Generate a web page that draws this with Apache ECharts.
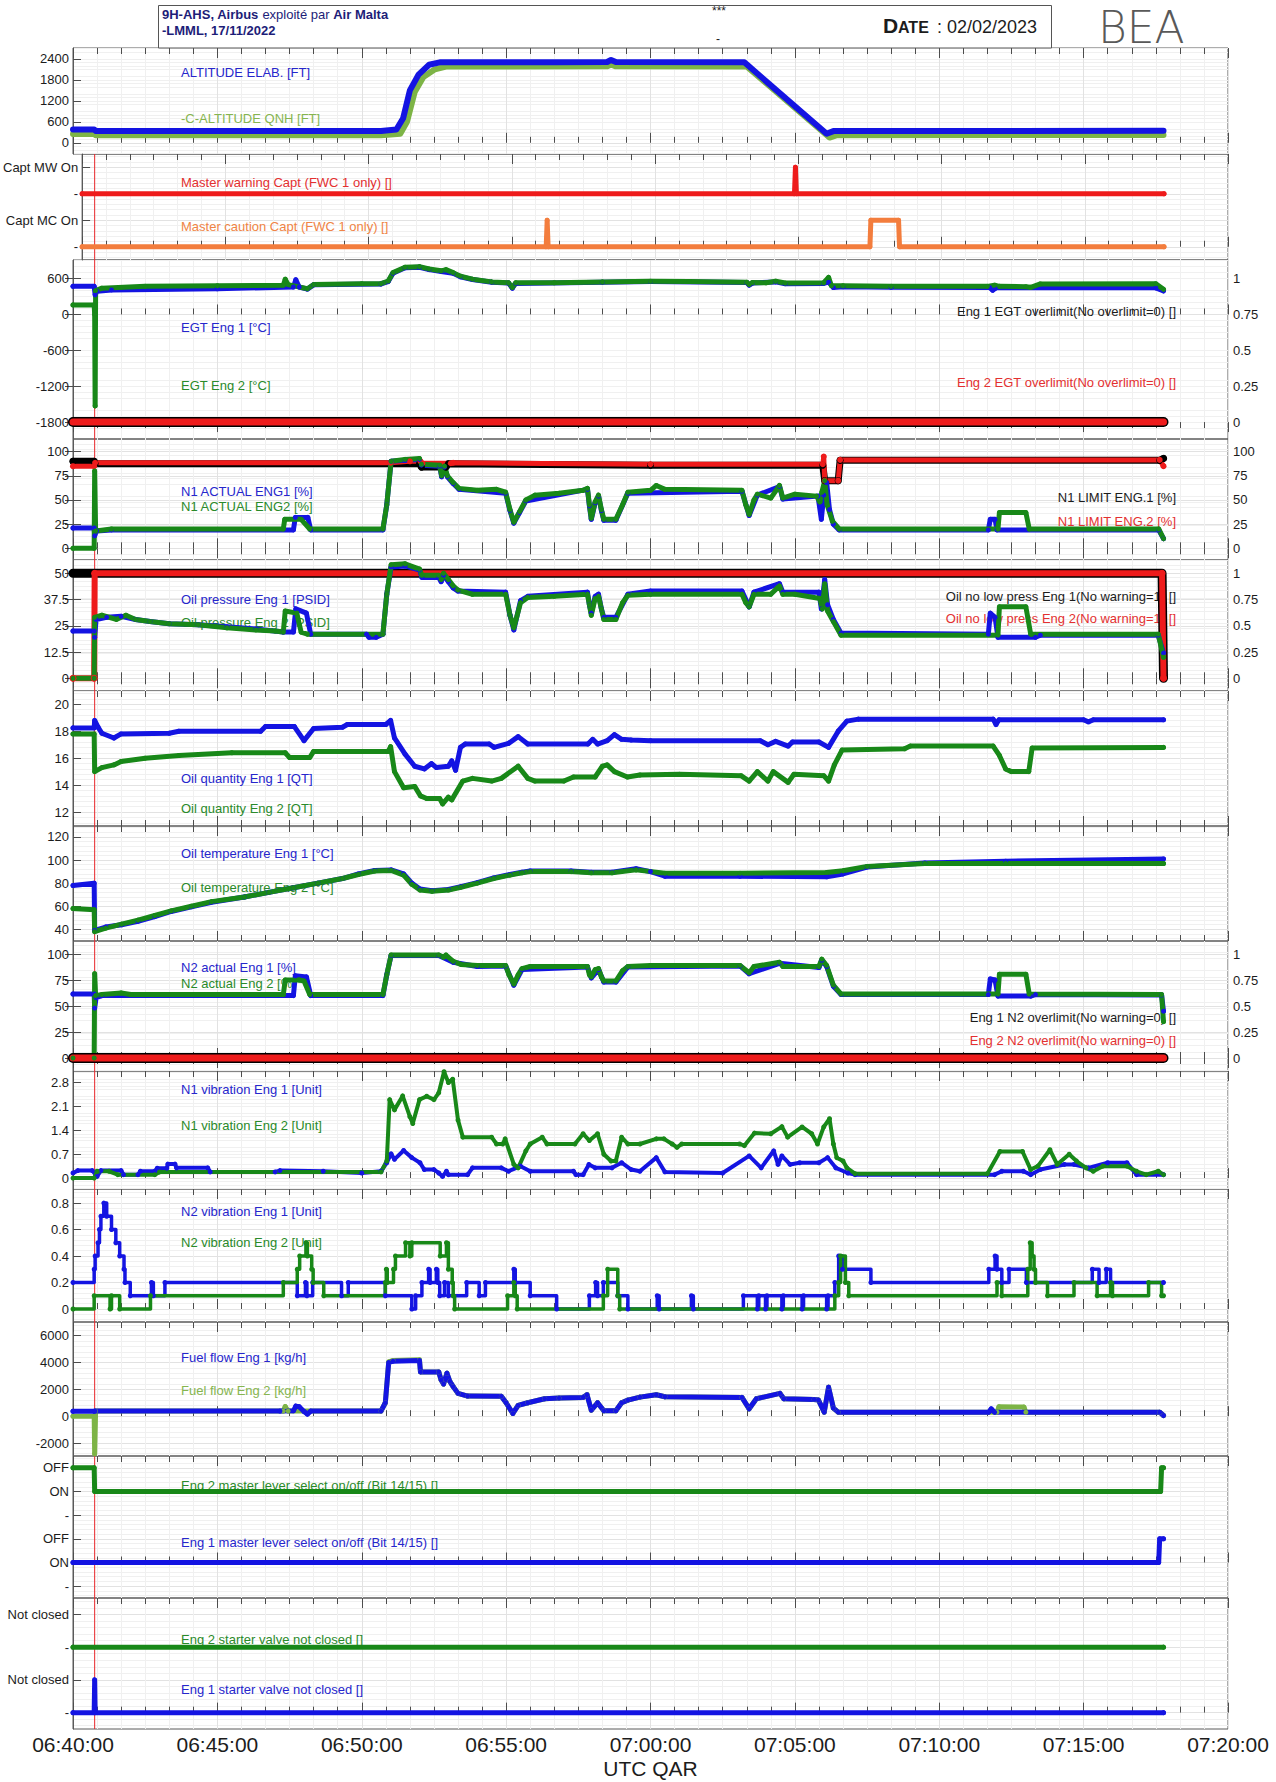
<!DOCTYPE html>
<html>
<head>
<meta charset="utf-8">
<script src="https://cdn.jsdelivr.net/npm/echarts@6/dist/echarts.min.js"></script>
<style>
  html, body { margin: 0; padding: 0; background: #ffffff; }
  #chart { width: 1276px; height: 1782px; }
</style>
</head>
<body>
<div id="chart"></div>
<script>
// All times are seconds after 06:40:00 UTC (QAR clock).
const clockStart = 6 * 3600 + 40 * 60;
const cursorSec = 45;
const lastSample = 2266;

// ---- tick values / tick names ----
const altTicks = [0, 600, 1200, 1800, 2400];
const warnTicks = [0, 1, 2, 3];
const warnTickNames = ['-', 'Capt MC On', '-', 'Capt MW On'];
const egtTicks = [-1800, -1200, -600, 0, 600];
const flagTicks = [0, 0.25, 0.5, 0.75, 1];
const pctTicks = [0, 25, 50, 75, 100];
const oilPTicks = [0, 12.5, 25, 37.5, 50];
const oilQTicks = [12, 14, 16, 18, 20];
const oilTTicks = [40, 60, 80, 100, 120];
const n1VibTicks = [0, 0.7, 1.4, 2.1, 2.8];
const n2VibTicks = [0, 0.2, 0.4, 0.6, 0.8];
const ffTicks = [-2000, 0, 2000, 4000, 6000];
const leverTicks = [-1, 0, 1, 2, 3, 4];
const leverTickNames = ['-', 'ON', 'OFF', '-', 'ON', 'OFF'];
const valveTicks = [0, 1, 2, 3];
const valveTickNames = ['-', 'Not closed', '-', 'Not closed'];

// ---- altitude [ft] ----
const altElab = [[0,380],[44,380],[47,340],[640,340],[672,380],[686,700],[700,1500],[718,1950],[740,2230],[762,2300],[1000,2300],[1110,2310],[1118,2370],[1128,2310],[1395,2300],[1566,260],[1580,335],[lastSample,345]];
const altQnh = [[0,250],[44,250],[47,215],[640,215],[680,260],[694,600],[710,1450],[728,1880],[752,2100],[775,2180],[1110,2185],[1118,2240],[1128,2185],[1400,2180],[1572,150],[1586,215],[lastSample,225]];

// ---- master warning / caution (0 = MC off, 1 = MC on, 2 = MW off, 3 = MW on) ----
const mwCapt = [[0,2],[1492,2],[1494,3],[1496,2],[lastSample,2]];
const mcCapt = [[0,0],[972,0],[974,1],[976,0],[1650,0],[1652,1],[1710,1],[1712,0],[lastSample,0]];

// ---- EGT [°C] and overlimit flags ----
const egtEng1 = [[0,470],[44,470],[46,330],[50,390],[80,410],[300,430],[458,460],[463,580],[470,460],[487,425],[500,495],[640,510],[655,550],[665,690],[690,780],[720,790],[740,750],[765,720],[790,690],[805,630],[830,585],[870,540],[905,525],[913,440],[920,520],[1100,540],[1200,550],[1400,535],[1405,490],[1412,525],[1460,545],[1480,515],[1560,520],[1570,540],[1580,450],[1600,465],[1700,455],[1905,450],[1911,405],[1918,445],[2250,445],[lastSample,395]];
const egtEng2 = [[0,160],[44,160],[45,0],[46,-1530],[47,400],[60,440],[150,470],[300,480],[437,490],[441,590],[447,500],[487,430],[500,500],[600,515],[640,515],[655,560],[665,700],[690,790],[720,800],[740,760],[765,730],[775,750],[790,700],[805,640],[830,590],[870,545],[905,530],[913,450],[920,530],[1000,530],[1100,545],[1200,555],[1280,550],[1400,540],[1405,500],[1412,535],[1440,530],[1460,555],[1480,525],[1560,530],[1570,620],[1576,480],[1600,480],[1700,470],[1900,470],[1915,490],[1925,470],[1980,465],[1990,455],[2010,510],[2250,515],[lastSample,420]];
const egtOverEng1 = [[0,0],[lastSample,0]];
const egtOverEng2 = [[0,0],[lastSample,0]];

// ---- N1 [%] ----
const n1Eng1 = [[0,21],[44,21],[45,13],[49,18],[80,19],[458,19],[462,32],[488,32],[494,19],[644,19],[652,45],[661,90],[690,91],[720,92],[724,86],[762,85],[766,74],[772,84],[778,74],[790,67],[802,61],[899,57],[908,39],[916,26],[928,37],[941,49],[1069,61],[1073,44],[1077,30],[1085,47],[1092,54],[1098,39],[1103,29],[1128,29],[1153,57],[1390,59],[1405,34],[1422,55],[1468,64],[1475,51],[1548,54],[1555,30],[1560,55],[1566,68],[1572,40],[1580,25],[1592,19],[1902,19],[1906,30],[1916,30],[1920,19],[2256,19],[lastSample,10]];
const n1Eng2 = [[0,0],[44,0],[45,80],[47,18],[80,20],[437,20],[440,30],[474,30],[492,20],[644,20],[652,45],[661,90],[690,92],[720,93],[724,87],[762,86],[766,75],[772,85],[778,75],[790,68],[802,62],[840,60],[880,61],[899,58],[908,40],[916,27],[928,38],[941,50],[960,55],[1010,57],[1060,60],[1069,62],[1073,45],[1077,31],[1085,48],[1092,55],[1098,40],[1103,30],[1128,30],[1142,45],[1153,58],[1200,60],[1212,65],[1230,61],[1390,60],[1398,45],[1405,35],[1415,50],[1422,56],[1450,52],[1468,65],[1475,52],[1500,56],[1545,54],[1552,48],[1556,58],[1562,70],[1567,45],[1578,28],[1592,20],[1922,20],[1925,37],[1980,37],[1987,20],[2256,20],[lastSample,10]];
const n1LimEng1 = [[0,90],[44,90],[46,87.5],[720,87.5],[724,84],[775,84],[780,87.5],[1200,86],[1558,86],[1562,70],[1590,70],[1594,91],[2258,91],[lastSample,93]];
const n1LimEng2 = [[0,85],[44,85],[46,88.5],[660,88.5],[700,90],[722,90],[726,88],[785,88],[790,88.5],[1200,87],[1558,87],[1560,95],[1562,70],[1590,70],[1594,91.5],[2258,91.5],[lastSample,85]];

// ---- oil pressure [PSID] and no-low-press flags ----
const oilPEng1 = [[0,22.5],[44,22.5],[45,19.5],[48,28],[70,29],[100,29.5],[130,28],[160,27],[200,26],[260,25.5],[320,24.5],[380,23.5],[437,22],[458,22],[463,33],[485,31],[494,21],[610,21],[615,19.5],[630,19.5],[644,21],[652,40],[661,53],[690,53.5],[720,51.5],[725,48],[760,48],[765,46],[770,49],[780,46],[790,43],[800,41.5],[899,41],[908,30],[916,23],[930,37],[945,39],[1069,41],[1073,35],[1077,31],[1085,39],[1092,40],[1098,33],[1103,29],[1128,29],[1153,40],[1200,41.5],[1390,41.5],[1405,34],[1415,41],[1468,45],[1475,41],[1550,41],[1555,33],[1562,47],[1568,35],[1580,28],[1596,21.5],[1902,21],[1906,31],[1916,29],[1922,19.5],[2000,19.5],[2010,20.5],[2255,20.5],[lastSample,12]];
const oilPEng2 = [[0,0],[44,0],[45,29],[60,30],[90,28],[110,30],[130,28],[160,27],[200,26],[260,25.5],[320,24],[380,23],[420,22.5],[437,22],[441,32],[465,31],[474,22],[487,21],[644,21],[652,40],[661,54],[690,54.5],[720,52],[725,49],[760,49],[765,47],[770,50],[780,47],[790,44],[800,42],[830,40],[899,40],[908,30],[916,24],[930,36],[945,38.5],[1000,39],[1069,40],[1073,35],[1077,30],[1085,38],[1092,39],[1098,33],[1103,28],[1128,28],[1142,36],[1153,39.5],[1200,40],[1390,40],[1398,36],[1405,34],[1415,40],[1450,40],[1468,44],[1475,40],[1500,40],[1552,38],[1557,33],[1562,45],[1568,32],[1580,27],[1596,20.5],[1922,20.5],[1925,34],[1980,34],[1990,21],[2255,21],[lastSample,10]];
const oilLowEng1 = [[0,1],[2263,1],[lastSample,0]];
const oilLowEng2 = [[0,0],[44,0],[45,1],[2263,1],[lastSample,0]];

// ---- oil quantity [QT] ----
const oilQEng1 = [[0,18.25],[44,18.25],[45,18.8],[52,18.3],[60,17.85],[85,17.5],[100,17.8],[200,17.85],[220,18.0],[390,18.0],[400,18.35],[460,18.35],[480,17.3],[500,18.2],[560,18.3],[570,18.5],[650,18.5],[660,18.8],[668,17.5],[690,16.3],[710,15.4],[730,15.2],[745,15.6],[755,15.3],[780,15.4],[787,15.8],[795,15.1],[805,16.8],[815,17.05],[865,17.05],[875,16.8],[905,17.1],[925,17.6],[945,17.05],[1070,17.05],[1080,17.4],[1090,17.05],[1110,17.3],[1125,17.75],[1140,17.4],[1160,17.35],[1200,17.3],[1428,17.3],[1444,17.0],[1460,17.25],[1486,16.9],[1495,17.2],[1550,17.2],[1570,16.8],[1590,18.0],[1608,18.75],[1632,18.9],[1912,18.9],[1918,18.5],[1924,18.85],[2100,18.85],[2110,18.7],[2120,18.85],[lastSample,18.85]];
const oilQEng2 = [[0,17.8],[44,17.8],[45,15.0],[60,15.3],[85,15.5],[100,15.75],[150,16.0],[220,16.2],[330,16.4],[441,16.4],[450,16.05],[492,16.05],[500,16.5],[655,16.5],[660,16.85],[668,15.0],[687,13.8],[710,13.9],[722,13.2],[735,13.0],[762,13.0],[768,12.6],[780,13.1],[787,12.9],[810,14.3],[830,14.5],[870,14.3],[890,14.5],[925,15.4],[945,14.5],[960,14.3],[1020,14.3],[1040,14.6],[1085,14.6],[1100,15.4],[1110,15.5],[1125,15.0],[1152,14.6],[1178,14.75],[1260,14.8],[1388,14.7],[1405,14.3],[1422,15.0],[1444,14.3],[1455,15.0],[1486,14.2],[1498,14.8],[1560,14.7],[1570,14.3],[1582,15.5],[1598,16.6],[1728,16.7],[1740,16.9],[1912,16.9],[1925,16.2],[1938,15.2],[1950,15.0],[1986,15.0],[1993,16.75],[lastSample,16.8]];

// ---- oil temperature [°C] ----
const oilTEng1 = [[0,78],[44,80],[45,39],[68,42],[101,44],[135,47],[170,51],[204,55.5],[246,59.5],[288,63.5],[356,68],[407,72],[458,76],[509,80],[560,84],[593,88],[627,91],[661,91.5],[687,88],[704,80],[721,75],[746,73.5],[780,74.5],[806,77],[840,80.5],[874,84.5],[908,87.5],[933,89.5],[950,90.5],[1035,90.5],[1077,89.5],[1120,89.5],[1170,92.5],[1200,90],[1230,86],[1386,86],[1566,85.5],[1600,88],[1650,94],[1770,97.5],[1938,99],[lastSample,101]];
const oilTEng2 = [[0,58],[44,57],[45,38],[68,41],[101,44.5],[135,48],[170,52],[204,56],[246,60],[288,64],[356,68],[407,72],[458,76],[509,80],[560,84],[593,87.5],[627,90.5],[661,91],[687,87],[704,79],[721,74],[746,73],[780,74],[806,76.5],[840,80],[874,84],[908,87],[933,89],[950,90],[1035,90],[1077,89],[1120,89],[1170,91.5],[1230,88.5],[1386,88.5],[1566,89.3],[1600,90.7],[1650,94.5],[1770,97],[1938,97],[lastSample,97]];

// ---- N2 [%] and overlimit flags ----
const n2Eng1 = [[0,61.5],[44,61.5],[45,48],[48,58],[60,60],[458,60],[462,79],[485,78],[494,60],[644,60],[652,80],[661,98.5],[760,98.5],[790,92],[840,88],[899,88.5],[916,70],[933,85],[1069,87.5],[1077,77],[1092,85],[1103,73],[1128,73],[1153,87.5],[1386,88.5],[1405,81],[1468,91],[1550,87],[1556,94],[1566,88],[1580,69],[1596,61],[1902,61],[1906,76],[1916,75],[1922,59.5],[1990,59.5],[2000,61],[2262,60.5],[lastSample,45]];
const n2Eng2 = [[0,0],[44,0],[45,81],[47,60],[60,61],[100,62.5],[120,61],[437,61],[441,75],[470,75],[480,74],[492,61],[644,61],[652,80],[661,99],[760,99],[770,97],[775,99],[790,93],[806,90],[840,89],[899,89],[906,80],[916,71],[925,80],[933,86],[950,88],[1069,88],[1073,80],[1077,78],[1085,85],[1092,86],[1098,78],[1103,74],[1128,74],[1142,84],[1153,88],[1200,89],[1386,89],[1405,82],[1415,88],[1468,92],[1475,88],[1550,88],[1556,95],[1566,89],[1580,70],[1596,61.5],[1922,61.5],[1925,80.5],[1980,80.5],[1987,61.5],[2262,61],[lastSample,35]];
const n2OverEng1 = [[0,0],[lastSample,0]];
const n2OverEng2 = [[0,0],[lastSample,0]];

// ---- N1 vibration [unit] ----
const n1VibEng1 = [[0,0.15],[10,0.22],[40,0.22],[50,0.05],[58,0.22],[100,0.22],[105,0.1],[135,0.1],[140,0.2],[170,0.2],[175,0.29],[195,0.29],[197,0.41],[212,0.41],[215,0.3],[280,0.3],[285,0.18],[420,0.18],[430,0.22],[520,0.2],[600,0.15],[640,0.2],[652,0.45],[661,0.71],[668,0.55],[687,0.81],[704,0.6],[721,0.45],[730,0.25],[750,0.25],[760,0.15],[768,0.05],[776,0.2],[780,0.1],[820,0.1],[830,0.3],[890,0.3],[905,0.2],[930,0.35],[950,0.2],[1040,0.2],[1045,0.1],[1060,0.1],[1072,0.4],[1085,0.3],[1120,0.3],[1140,0.45],[1160,0.25],[1178,0.2],[1212,0.6],[1230,0.18],[1350,0.15],[1405,0.65],[1430,0.3],[1456,0.8],[1465,0.4],[1473,0.65],[1490,0.4],[1510,0.45],[1550,0.45],[1568,0.6],[1585,0.3],[1610,0.15],[1625,0.1],[1915,0.1],[1930,0.2],[1975,0.2],[1990,0.1],[2010,0.25],[2060,0.4],[2080,0.4],[2110,0.3],[2150,0.45],[2190,0.45],[2210,0.1],[lastSample,0.1]];
const n1VibEng2 = [[0,0],[44,0],[50,0.2],[75,0.2],[93,0.1],[170,0.1],[180,0.18],[640,0.18],[652,0.5],[658,2.3],[668,2.0],[685,2.41],[700,1.8],[706,1.6],[720,2.3],[735,2.4],[750,2.3],[760,2.5],[771,3.12],[780,2.8],[789,2.9],[800,1.7],[810,1.2],[870,1.2],[880,1.0],[893,1.0],[898,1.15],[916,0.4],[925,0.3],[941,0.8],[950,1.0],[975,1.2],[985,1.0],[1043,1.0],[1060,1.3],[1073,1.1],[1090,1.3],[1103,0.7],[1118,0.5],[1128,0.5],[1140,1.2],[1153,1.0],[1178,1.0],[1212,1.15],[1228,1.15],[1245,1.0],[1255,0.9],[1265,1.0],[1385,1.0],[1395,0.95],[1416,1.32],[1450,1.3],[1473,1.51],[1485,1.2],[1515,1.5],[1535,1.3],[1547,1.0],[1560,1.5],[1572,1.74],[1580,1.0],[1587,0.6],[1600,0.5],[1608,0.3],[1625,0.13],[1900,0.13],[1926,0.78],[1973,0.78],[1990,0.25],[2005,0.35],[2030,0.83],[2045,0.4],[2070,0.7],[2085,0.5],[2105,0.3],[2120,0.2],[2140,0.35],[2190,0.35],[2210,0.2],[2230,0.1],[2255,0.2],[lastSample,0.1]];

// ---- N2 vibration [unit]: each value holds until the next sample ----
const n2VibEng1 = [[0,0.2],[44,0.3],[46,0.4],[52,0.5],[55,0.6],[58,0.7],[64,0.8],[70,0.7],[80,0.6],[89,0.5],[97,0.4],[106,0.3],[108,0.2],[119,0.1],[163,0.2],[167,0.1],[191,0.2],[466,0.1],[483,0.2],[486,0.1],[498,0.2],[558,0.1],[572,0.2],[649,0.1],[704,0],[712,0.1],[725,0.2],[739,0.3],[742,0.2],[755,0.3],[758,0.2],[762,0.1],[772,0.2],[780,0.1],[818,0.2],[844,0.1],[857,0.2],[916,0.3],[919,0.2],[950,0.1],[1005,0],[1073,0.1],[1086,0.2],[1090,0.1],[1102,0.2],[1132,0.1],[1153,0],[1214,0.1],[1218,0],[1285,0.1],[1289,0],[1393,0.1],[1422,0],[1425,0.1],[1439,0],[1442,0.1],[1473,0],[1476,0.1],[1515,0],[1518,0.1],[1566,0],[1569,0.1],[1583,0.2],[1591,0.4],[1599,0.3],[1658,0.2],[1903,0.3],[1916,0.4],[1920,0.3],[1930,0.2],[1945,0.3],[1981,0.2],[2118,0.3],[2132,0.2],[2147,0.3],[2156,0.2],[lastSample,0.2]];
const n2VibEng2 = [[0,0],[44,0.1],[77,0],[80,0.1],[97,0],[161,0.1],[437,0.2],[466,0.3],[471,0.4],[484,0.5],[487,0.4],[496,0.3],[499,0.2],[521,0.1],[649,0.2],[651,0.3],[653,0.2],[666,0.3],[670,0.4],[691,0.5],[700,0.4],[704,0.5],[763,0.4],[776,0.5],[780,0.3],[788,0.2],[790,0.1],[793,0],[903,0.1],[916,0.2],[919,0.1],[923,0],[1102,0.1],[1111,0.3],[1132,0.1],[1136,0],[1583,0.1],[1591,0.2],[1595,0.4],[1605,0.2],[1612,0.1],[1920,0.2],[1930,0.1],[1984,0.3],[1989,0.5],[1993,0.4],[1997,0.3],[2000,0.2],[2025,0.1],[2080,0.2],[2128,0.1],[2156,0.2],[2160,0.1],[2235,0.2],[2262,0.1],[lastSample,0.1]];

// ---- fuel flow [kg/h] ----
const ffEng1 = [[0,370],[44,370],[46,380],[430,380],[458,400],[463,750],[470,700],[480,350],[487,150],[494,380],[640,380],[649,1000],[656,4000],[665,4100],[720,4150],[722,3300],[760,3300],[765,2700],[770,2400],[777,3200],[783,2600],[790,2200],[800,1700],[820,1500],[890,1480],[900,1000],[914,200],[925,800],[945,1000],[980,1300],[1010,1350],[1060,1400],[1068,1600],[1077,450],[1090,1000],[1103,400],[1128,400],[1140,1000],[1153,1200],[1178,1420],[1212,1600],[1230,1450],[1390,1400],[1405,550],[1420,1300],[1469,1700],[1477,1300],[1540,1250],[1549,1200],[1561,300],[1570,2160],[1580,600],[1590,300],[1903,300],[1908,550],[1915,300],[2258,300],[lastSample,50]];
const ffEng2 = [[0,0],[44,0],[45,-2800],[47,380],[437,380],[441,720],[447,380],[640,380],[649,1000],[656,4050],[665,4150],[720,4200],[722,3300],[760,3300],[765,2700],[770,2400],[777,3200],[783,2600],[790,2200],[800,1700],[820,1500],[890,1480],[900,1000],[914,200],[925,800],[945,1000],[980,1300],[1010,1350],[1060,1400],[1068,1600],[1077,450],[1090,1000],[1103,400],[1128,400],[1140,1000],[1153,1200],[1178,1420],[1212,1600],[1230,1450],[1390,1400],[1405,550],[1420,1300],[1469,1700],[1477,1300],[1540,1250],[1549,1200],[1561,300],[1570,2160],[1580,600],[1590,300],[1920,300],[1924,700],[1976,680],[1980,300],[2258,300],[lastSample,50]];

// ---- master lever (eng 2: ON=3, OFF=4; eng 1: ON=0, OFF=1) ----
const mlEng2 = [[0,4],[44,4],[45,3],[2260,3],[2262,4],[lastSample,4]];
const mlEng1 = [[0,0],[2256,0],[2258,1],[lastSample,1]];

// ---- starter valve (eng 2: '-'=2, not closed=3; eng 1: '-'=0, not closed=1) ----
const svEng2 = [[0,2],[lastSample,2]];
const svEng1 = [[0,0],[44,0],[45,1],[46,0],[lastSample,0]];

// ---------------------------------------------------------------------------
const FONT = "'Liberation Sans', Arial, Helvetica, sans-serif";
const COL = {
  blue: '#1414e2', green: '#188818', olive: '#7db446', red: '#ee1b1b',
  orange: '#f37d3d', black: '#000000'
};
const TXT = {
  blue: '#2626cc', green: '#2a8a2a', olive: '#86b54f', red: '#e33030',
  orange: '#f08445', black: '#1c1c1c'
};

// stacked strips: pixel top / bottom of each plot frame
const strips = [
  {top: 48, bottom: 154}, {top: 154, bottom: 260}, {top: 260, bottom: 439},
  {top: 439, bottom: 560}, {top: 560, bottom: 691}, {top: 691, bottom: 826},
  {top: 826, bottom: 941}, {top: 941, bottom: 1071}, {top: 1071, bottom: 1189},
  {top: 1189, bottom: 1322}, {top: 1322, bottom: 1456}, {top: 1456, bottom: 1598},
  {top: 1598, bottom: 1729}
];
const plotLeft = 73, plotRight = 48;

// value ranges of each strip's scales
const scales = [
  {min: -320, max: 2710, ticks: altTicks},
  {min: -0.5, max: 3.5, ticks: warnTicks, names: warnTickNames},
  {min: -2083, max: 911, ticks: egtTicks, right: {min: -0.118, max: 1.1296, ticks: flagTicks}},
  {min: -12.1, max: 113.1, ticks: pctTicks, right: {min: -12.1, max: 113.1, ticks: pctTicks}},
  {min: -6.06, max: 56.3, ticks: oilPTicks, right: {min: -0.1212, max: 1.126, ticks: flagTicks}},
  {min: 10.96, max: 20.99, ticks: oilQTicks},
  {min: 29.9, max: 129.5, ticks: oilTTicks},
  {min: -12.5, max: 112.5, ticks: pctTicks, right: {min: -0.125, max: 1.125, ticks: flagTicks}},
  {min: -0.32, max: 3.14, ticks: n1VibTicks},
  {min: -0.098, max: 0.906, ticks: n2VibTicks},
  {min: -2969, max: 7021, ticks: ffTicks},
  {min: -1.5, max: 4.5, ticks: leverTicks, names: leverTickNames},
  {min: -0.5, max: 3.5, ticks: valveTicks, names: valveTickNames}
];

function pad2(n) { return (n < 10 ? '0' : '') + n; }
function clockLabel(sec) {
  const t = clockStart + Math.round(sec);
  return pad2(Math.floor(t / 3600)) + ':' + pad2(Math.floor((t % 3600) / 60)) + ':' + pad2(t % 60);
}

const grid = [], xAxis = [], yAxis = [];
const xIdx = [], yLeft = [], yRight = [];
const tickLine = {color: '#4d4d4d', width: 1};
const last = strips.length - 1;

strips.forEach((s, i) => {
  grid.push({left: plotLeft, right: plotRight, top: s.top, height: s.bottom - s.top,
    show: true, borderColor: '#5a5a5a', borderWidth: 1, backgroundColor: 'transparent'});

  xIdx[i] = xAxis.length;
  xAxis.push({
    gridIndex: i, type: 'value', min: 0, max: 2400, interval: 300, position: 'bottom',
    axisLine: {show: false},
    axisTick: {show: true, inside: true, length: 10, lineStyle: tickLine},
    minorTick: {show: true, splitNumber: 6, length: 6, lineStyle: tickLine},
    splitLine: {show: true, lineStyle: {color: '#e2e2e2', width: 1}},
    minorSplitLine: {show: true, lineStyle: {color: '#f0f0f0', width: 1}},
    axisLabel: i === last ? {
      show: true, formatter: clockLabel, fontSize: 21, color: '#1c1c1c',
      fontFamily: FONT, margin: 5, showMinLabel: true, showMaxLabel: true
    } : {show: false},
    name: i === last ? 'UTC QAR' : '',
    nameLocation: 'middle', nameGap: 29,
    nameTextStyle: {fontSize: 21, color: '#1c1c1c', fontFamily: FONT}
  });
  xAxis.push({
    gridIndex: i, type: 'value', min: 0, max: 2400, interval: 300, position: 'top',
    axisLine: {show: false},
    axisTick: {show: true, inside: true, length: 10, lineStyle: tickLine},
    minorTick: {show: true, splitNumber: 6, length: 6, lineStyle: tickLine},
    splitLine: {show: false}, axisLabel: {show: false}
  });

  const sc = scales[i];
  const fmt = sc.names ? (v => sc.names[sc.ticks.indexOf(v)]) : (v => String(v));
  yLeft[i] = yAxis.length;
  yAxis.push({
    gridIndex: i, type: 'value', min: sc.min, max: sc.max, position: 'left',
    axisLine: {show: true, lineStyle: {color: '#5a5a5a'}},
    axisTick: {show: true, inside: true, length: 8, customValues: sc.ticks, lineStyle: tickLine},
    axisLabel: {show: true, customValues: sc.ticks, formatter: fmt, fontSize: 13,
      color: '#1c1c1c', fontFamily: FONT, margin: 4},
    splitLine: {show: true, lineStyle: {color: '#e2e2e2', width: 1}},
    minorTick: {show: false, splitNumber: 5},
    minorSplitLine: {show: true, lineStyle: {color: '#f0f0f0', width: 1}}
  });
  if (sc.right) {
    const r = sc.right;
    yRight[i] = yAxis.length;
    yAxis.push({
      gridIndex: i, type: 'value', min: r.min, max: r.max, position: 'right',
      axisLine: {show: false},
      axisTick: {show: true, inside: true, length: 8, customValues: r.ticks, lineStyle: tickLine},
      axisLabel: {show: true, customValues: r.ticks, formatter: v => String(v), fontSize: 13,
        color: '#1c1c1c', fontFamily: FONT, margin: 5},
      splitLine: {show: false}
    });
  }
});

// overlay strip used by the replay cursor (spans strips 2..13)
const cursorGrid = grid.length;
grid.push({left: plotLeft, right: plotRight, top: strips[1].top, height: strips[last].bottom - strips[1].top, show: false});
const cursorX = xAxis.length;
xAxis.push({gridIndex: cursorGrid, type: 'value', min: 0, max: 2400, show: false});
const cursorY = yAxis.length;
yAxis.push({gridIndex: cursorGrid, type: 'value', min: 0, max: 1, show: false});

const series = [];
function trace(i, side, data, color, width, sym, extra) {
  series.push(Object.assign({
    type: 'line', xAxisIndex: xIdx[i], yAxisIndex: side === 'r' ? yRight[i] : yLeft[i],
    data: data, symbol: 'circle', symbolSize: sym || 0, showSymbol: !!sym,
    lineStyle: {color: color, width: width, cap: 'round', join: 'round'},
    itemStyle: {color: color}, silent: true, animation: false, z: 5
  }, extra || {}));
}

series.push({type: 'line', xAxisIndex: cursorX, yAxisIndex: cursorY,
  data: [[cursorSec, 0], [cursorSec, 1]], symbol: 'none', silent: true, animation: false,
  lineStyle: {color: '#e8262a', width: 1}, z: 3});

trace(0, 'l', altQnh, COL.olive, 6, 0);
trace(0, 'l', altElab, COL.blue, 6, 0);

trace(1, 'l', mwCapt, COL.red, 5, 5);
trace(1, 'l', mcCapt, COL.orange, 5, 5);

trace(2, 'l', egtEng1, COL.blue, 5, 5);
trace(2, 'l', egtEng2, COL.green, 5, 5);
trace(2, 'r', egtOverEng1, COL.black, 10, 0);
trace(2, 'r', egtOverEng2, COL.red, 7, 0);

trace(3, 'l', n1LimEng1, COL.black, 7, 7);
trace(3, 'l', n1LimEng2, COL.red, 5, 6);
trace(3, 'l', n1Eng1, COL.blue, 5, 5);
trace(3, 'l', n1Eng2, COL.green, 5, 5);

trace(4, 'r', oilLowEng1, COL.black, 9, 0);
trace(4, 'r', oilLowEng2, COL.red, 6, 7);
trace(4, 'l', oilPEng1, COL.blue, 5, 5);
trace(4, 'l', oilPEng2, COL.green, 5, 5);

trace(5, 'l', oilQEng1, COL.blue, 5, 5);
trace(5, 'l', oilQEng2, COL.green, 5, 5);

trace(6, 'l', oilTEng1, COL.blue, 5, 5);
trace(6, 'l', oilTEng2, COL.green, 5, 5);

trace(7, 'l', n2Eng1, COL.blue, 5, 5);
trace(7, 'l', n2Eng2, COL.green, 5, 5);
trace(7, 'r', n2OverEng1, COL.black, 10, 0);
trace(7, 'r', n2OverEng2, COL.red, 7, 0);

trace(8, 'l', n1VibEng1, COL.blue, 4, 5);
trace(8, 'l', n1VibEng2, COL.green, 4, 5);

trace(9, 'l', n2VibEng1, COL.blue, 3.5, 5, {step: 'end'});
trace(9, 'l', n2VibEng2, COL.green, 3.5, 5, {step: 'end'});

trace(10, 'l', ffEng2, COL.olive, 5, 5);
trace(10, 'l', ffEng1, COL.blue, 5, 5);

trace(11, 'l', mlEng2, COL.green, 5, 5);
trace(11, 'l', mlEng1, COL.blue, 5, 5);

trace(12, 'l', svEng2, COL.green, 5, 5);
trace(12, 'l', svEng1, COL.blue, 5, 5);

// parameter captions inside the strips
const captions = [
  ['ALTITUDE ELAB. [FT]', 'blue', 'left', 72],
  ['-C-ALTITUDE QNH [FT]', 'olive', 'left', 118],
  ['Master warning Capt (FWC 1 only) []', 'red', 'left', 182],
  ['Master caution Capt (FWC 1 only) []', 'orange', 'left', 226],
  ['EGT Eng 1 [°C]', 'blue', 'left', 327],
  ['EGT Eng 2 [°C]', 'green', 'left', 385],
  ['Eng 1 EGT overlimit(No overlimit=0) []', 'black', 'right', 311],
  ['Eng 2 EGT overlimit(No overlimit=0) []', 'red', 'right', 382],
  ['N1 ACTUAL ENG1 [%]', 'blue', 'left', 491],
  ['N1 ACTUAL ENG2 [%]', 'green', 'left', 506],
  ['N1 LIMIT ENG.1 [%]', 'black', 'right', 497],
  ['N1 LIMIT ENG.2 [%]', 'red', 'right', 521],
  ['Oil pressure Eng 1 [PSID]', 'blue', 'left', 599],
  ['Oil pressure Eng 2 [PSID]', 'green', 'left', 622],
  ['Oil no low press Eng 1(No warning=1) []', 'black', 'right', 596],
  ['Oil no low press Eng 2(No warning=1) []', 'red', 'right', 618],
  ['Oil quantity Eng 1 [QT]', 'blue', 'left', 778],
  ['Oil quantity Eng 2 [QT]', 'green', 'left', 808],
  ['Oil temperature Eng 1 [°C]', 'blue', 'left', 853],
  ['Oil temperature Eng 2 [°C]', 'green', 'left', 887],
  ['N2 actual Eng 1 [%]', 'blue', 'left', 967],
  ['N2 actual Eng 2 [%]', 'green', 'left', 983],
  ['Eng 1 N2 overlimit(No warning=0) []', 'black', 'right', 1017],
  ['Eng 2 N2 overlimit(No warning=0) []', 'red', 'right', 1040],
  ['N1 vibration Eng 1 [Unit]', 'blue', 'left', 1089],
  ['N1 vibration Eng 2 [Unit]', 'green', 'left', 1125],
  ['N2 vibration Eng 1 [Unit]', 'blue', 'left', 1211],
  ['N2 vibration Eng 2 [Unit]', 'green', 'left', 1242],
  ['Fuel flow Eng 1 [kg/h]', 'blue', 'left', 1357],
  ['Fuel flow Eng 2 [kg/h]', 'olive', 'left', 1390],
  ['Eng 2 master lever select on/off (Bit 14/15) []', 'green', 'left', 1485],
  ['Eng 1 master lever select on/off (Bit 14/15) []', 'blue', 'left', 1542],
  ['Eng 2 starter valve not closed []', 'green', 'left', 1639],
  ['Eng 1 starter valve not closed []', 'blue', 'left', 1689]
];

function txt(text, x, y, opt, z) {
  return {
    type: 'text', x: x, y: y, z: z === undefined ? 4 : z, silent: true,
    style: Object.assign({
      text: text, fill: '#1c1c1c', fontSize: 13, fontFamily: FONT,
      align: 'left', textAlign: 'left', verticalAlign: 'middle', textVerticalAlign: 'middle'
    }, opt || {})
  };
}

const graphics = [];
captions.forEach(c => {
  const right = c[2] === 'right';
  graphics.push(txt(c[0], right ? 1176 : 181, c[3], {
    fill: TXT[c[1]], align: c[2], textAlign: c[2]
  }));
});

// header block
graphics.push({type: 'rect', z: 4, silent: true,
  shape: {x: 158.5, y: 5.5, width: 893, height: 42.5},
  style: {fill: '#ffffff', stroke: '#555555', lineWidth: 1}});
graphics.push(txt('{b|9H-AHS, Airbus} {n|exploité par} {b|Air Malta}', 162, 14, {
  fill: '#1d1d78',
  rich: {
    b: {fontWeight: 'bold', fontSize: 13, fontFamily: FONT, fill: '#1d1d78'},
    n: {fontWeight: 'normal', fontSize: 13, fontFamily: FONT, fill: '#1d1d78'}
  }
}, 6));
graphics.push(txt('-LMML, 17/11/2022', 162, 30, {fill: '#1d1d78', fontWeight: 'bold'}, 6));
graphics.push(txt('***', 719, 11, {align: 'center', textAlign: 'center', fontSize: 12}, 6));
graphics.push(txt('-', 718, 39, {align: 'center', textAlign: 'center', fontSize: 12}, 6));
graphics.push(txt('D', 883, 36, {fontSize: 21, fontWeight: 'bold', verticalAlign: 'bottom', textVerticalAlign: 'bottom'}, 6));
graphics.push(txt('ATE', 898, 35, {fontSize: 16, fontWeight: 'bold', verticalAlign: 'bottom', textVerticalAlign: 'bottom'}, 6));
graphics.push(txt(': 02/02/2023', 937, 36, {fontSize: 18, verticalAlign: 'bottom', textVerticalAlign: 'bottom'}, 6));
graphics.push(txt('BEA', 1098, 27, {fontSize: 44, fontFamily: "'DejaVu Sans', sans-serif", fontWeight: 200, fill: '#595959'}, 6));

const chart = echarts.init(document.getElementById('chart'), null, {renderer: 'svg'});
chart.setOption({
  animation: false,
  backgroundColor: '#ffffff',
  grid: grid,
  xAxis: xAxis,
  yAxis: yAxis,
  series: series,
  graphic: {elements: graphics}
});
</script>
</body>
</html>
